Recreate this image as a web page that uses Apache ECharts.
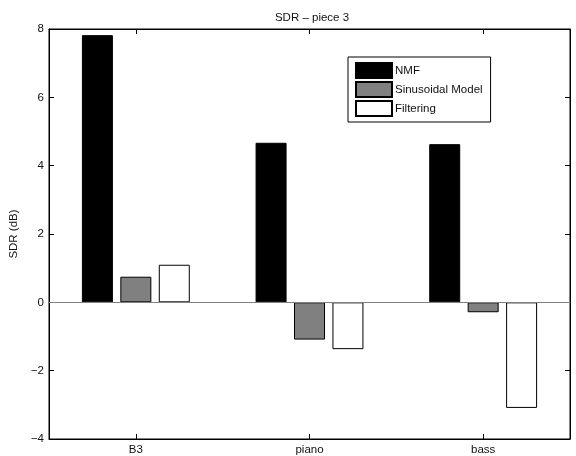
<!DOCTYPE html>
<html>
<head>
<meta charset="utf-8">
<script src="https://cdn.jsdelivr.net/npm/echarts@6/dist/echarts.min.js"></script>
<style>html,body{margin:0;padding:0;background:#fff}#c{width:576px;height:456px}</style>
</head>
<body>
<div id="c"></div>
<script>
var categories = ['B3', 'piano', 'bass'];
var seriesNames = ['NMF', 'Sinusoidal Model', 'Filtering'];
var nmf = [7.82, 4.67, 4.63];
var sinusoidal = [0.75, -1.09, -0.29];
var filtering = [1.10, -1.37, -3.09];
var yTicks = [-4, -2, 0, 2, 4, 6, 8];

var font = 'Liberation Sans, Arial, Helvetica, sans-serif';
var chart = echarts.init(document.getElementById('c'), null, {renderer: 'canvas'});
var fills = ['#000000', '#808080', '#ffffff'];
var data = [nmf, sinusoidal, filtering];
var series = seriesNames.map(function (n, i) {
  var s = {
    name: n, type: 'bar', data: data[i], barWidth: 31, barGap: '24%',
    itemStyle: {color: fills[i], borderColor: '#000', borderWidth: 1},
    emphasis: {disabled: true}, animation: false
  };
  if (i === 0) {
    s.markLine = {silent: true, symbol: 'none', label: {show: false},
      lineStyle: {color: '#808080', width: 1, type: 'solid'},
      data: [{yAxis: 0}], animation: false};
  }
  return s;
});
chart.setOption({
  animation: false,
  title: {text: 'SDR \u2013 piece 3', left: 307, textAlign: 'center', top: 7,
    textStyle: {fontFamily: font, fontSize: 11.5, fontWeight: 'normal', color: '#111'}},
  grid: {left: 48.5, right: 6, top: 29, bottom: 16, show: true, borderColor: '#000', borderWidth: 1, containLabel: false},
  legend: {
    orient: 'vertical', left: 348, top: 57, itemWidth: 36, itemHeight: 15, itemGap: 2,
    padding: [5, 8, 5, 7], borderColor: '#000', borderWidth: 1, backgroundColor: '#fff',
    icon: 'rect', selectedMode: false,
    textStyle: {fontFamily: font, fontSize: 11.5, color: '#111', padding: [0, 0, 0, -2]},
    data: seriesNames
  },
  xAxis: [{
    type: 'category', data: categories, position: 'bottom',
    axisLine: {show: true, onZero: false, lineStyle: {color: '#000'}},
    axisTick: {show: true, inside: true, alignWithLabel: true, length: 5, lineStyle: {color: '#000'}},
    axisLabel: {fontFamily: font, fontSize: 11.5, color: '#111', margin: 5}
  }, {
    type: 'category', data: categories, position: 'top',
    axisLine: {show: true, onZero: false, lineStyle: {color: '#000'}},
    axisTick: {show: true, inside: true, alignWithLabel: true, length: 5, lineStyle: {color: '#000'}},
    axisLabel: {show: false}
  }],
  yAxis: [{
    type: 'value', min: yTicks[0], max: yTicks[yTicks.length - 1], interval: 2,
    name: 'SDR (dB)', nameLocation: 'middle', nameGap: 21,
    nameTextStyle: {fontFamily: font, fontSize: 11.5, color: '#111'},
    axisLine: {show: true, lineStyle: {color: '#000'}},
    axisTick: {show: true, inside: true, length: 5, lineStyle: {color: '#000'}},
    axisLabel: {fontFamily: font, fontSize: 11.5, color: '#111', margin: 5,
      formatter: function (v) { return String(v).replace('-', '\u2212'); }},
    splitLine: {show: false}
  }, {
    type: 'value', min: yTicks[0], max: yTicks[yTicks.length - 1], interval: 2, position: 'right',
    axisLine: {show: true, lineStyle: {color: '#000'}},
    axisTick: {show: true, inside: true, length: 5, lineStyle: {color: '#000'}},
    axisLabel: {show: false}, splitLine: {show: false}
  }],
  series: series
});
</script>
</body>
</html>
